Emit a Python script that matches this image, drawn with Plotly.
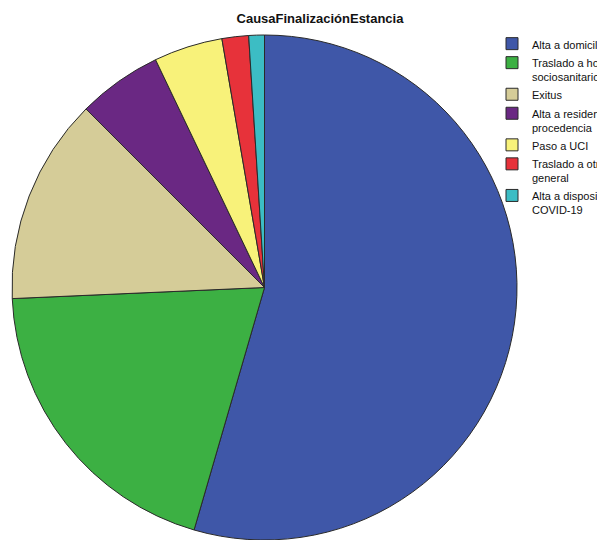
import plotly.graph_objects as go

categories = [
    "Alta a domicilio",
    "Traslado a hospital<br>sociosanitario",
    "Exitus",
    "Alta a residencia de<br>procedencia",
    "Paso a UCI",
    "Traslado a otro hospital<br>general",
    "Alta a dispositivo<br>COVID-19",
]
values = [54.5, 19.8, 13.2, 5.4, 4.4, 1.7, 1.0]
colors = ["#3f57a8", "#3cb043", "#d5cc98", "#6a2883", "#f8f27a", "#e7323a", "#3cbdc4"]

W, H = 597, 540

fig = go.Figure(
    go.Pie(
        labels=categories,
        values=values,
        sort=False,
        direction="clockwise",
        rotation=0,
        textinfo="none",
        hoverinfo="label+percent",
        marker=dict(colors=colors, line=dict(color="#2a2a2a", width=1)),
        domain=dict(x=[9 / W, 520 / W], y=[0, 505 / H]),
    )
)

fig.update_layout(
    width=W,
    height=H,
    margin=dict(l=0, r=0, t=0, b=0, autoexpand=False),
    paper_bgcolor="white",
    plot_bgcolor="white",
    font=dict(family="Liberation Sans, Arial, sans-serif", color="#111"),
    title=dict(
        text="<b>CausaFinalizaciónEstancia</b>",
        x=320 / W,
        xanchor="center",
        xref="paper",
        y=1 - 18 / H,
        yanchor="middle",
        yref="container",
        font=dict(size=13, color="#111"),
    ),
    showlegend=True,
    legend=dict(
        x=492 / W,
        xanchor="left",
        y=1 - 30 / H,
        yanchor="top",
        font=dict(size=11, color="#111"),
        bgcolor="rgba(0,0,0,0)",
        valign="top",
        itemwidth=30,
        traceorder="normal",
    ),
)

fig.write_html("out.html")
